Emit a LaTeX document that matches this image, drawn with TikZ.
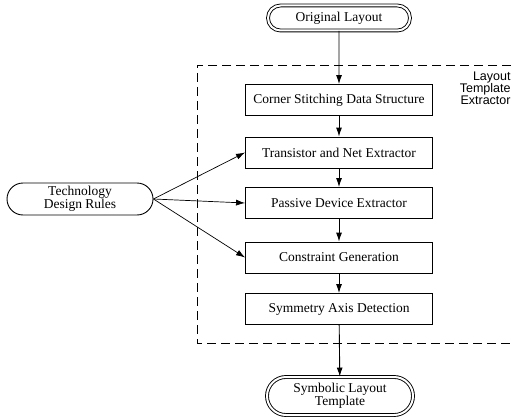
\documentclass[tikz,border=0pt]{standalone}
\usepackage{fontspec}
\setmainfont{Liberation Serif}
\setsansfont{Liberation Sans}
\usetikzlibrary{shapes.misc,arrows.meta}
\begin{document}
\begin{tikzpicture}[x=1pt,y=-1pt,line width=0.9pt,
    every node/.style={font=\fontsize{13.5}{11}\selectfont,inner sep=0pt,align=center},
    stage/.style={draw,rectangle,minimum width=187pt,minimum height=31pt},
    term/.style={draw,rounded rectangle,double,double distance=2pt,minimum width=142pt},
    rules/.style={draw,rounded rectangle,minimum width=146pt,minimum height=32pt},
    flow/.style={-{Latex[length=9pt,width=6pt]}}]
    \useasboundingbox (0,0) rectangle (513,417);
    % inputs and output
    \node[term,minimum height=25pt] (orig) at (339,18) {Original Layout};
    \node[term,minimum width=146pt,minimum height=38pt] (symb) at (340,396) {Symbolic Layout\\Template};
    \node[rules] (tech) at (80,199) {Technology\\Design Rules};
    % extractor stages
    \node[stage] (corner) at (339,100) {Corner Stitching Data Structure};
    \node[stage] (trans) at (339,152.5) {Transistor and Net Extractor};
    \node[stage] (passive) at (339,203) {Passive Device Extractor};
    \node[stage] (constr) at (339,257.5) {Constraint Generation};
    \node[stage] (symm) at (339,309) {Symmetry Axis Detection};
    % extractor frame
    \draw[dash pattern=on 9pt off 5pt] (525,65) -| (197,343) -- (525,343);
    \node[anchor=north east,font=\sffamily\fontsize{12.5}{8.8}\selectfont,align=right] (ltx) at (511,71) {Layout\\Template\\Extractor};
    % main flow
    \draw[flow] (orig) -- (corner);
    \draw[flow] (corner) -- (trans);
    \draw[flow] (trans) -- (passive);
    \draw[flow] (passive) -- (constr);
    \draw[flow] (constr) -- (symm);
    \draw[flow] (symm) -- (symb);
    % rules feed three stages
    \draw[flow,line width=0.7pt] (tech.east) -- (trans.west);
    \draw[flow,line width=0.7pt] (tech.east) -- (passive.west);
    \draw[flow,line width=0.7pt] (tech.east) -- (constr.west);
\end{tikzpicture}
\end{document}
